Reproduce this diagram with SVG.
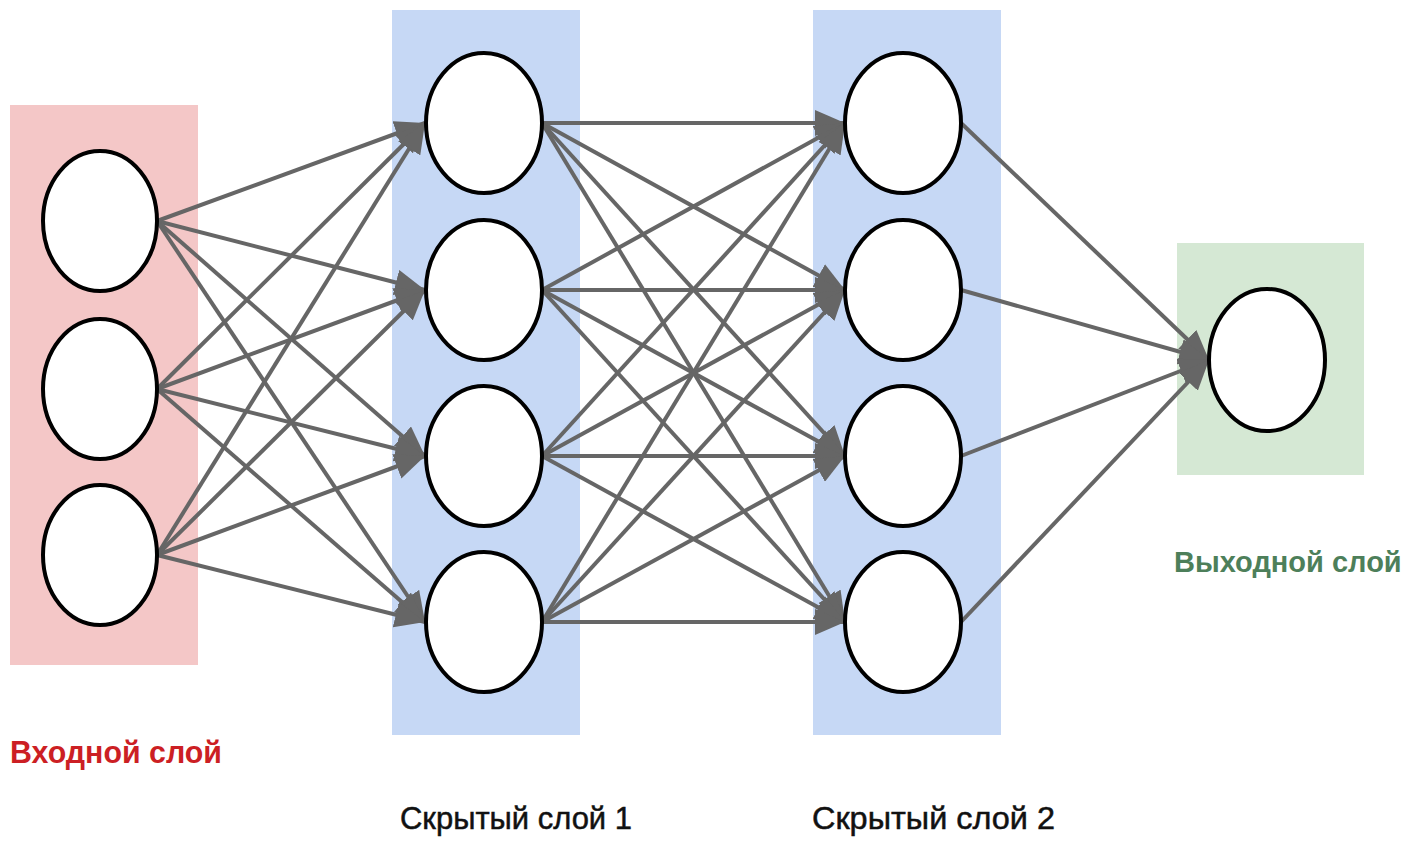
<svg xmlns="http://www.w3.org/2000/svg" width="1416" height="841" viewBox="0 0 1416 841">
<style>
.node{fill:#fff;stroke:#000;stroke-width:4}
.edge{stroke:#666;stroke-width:4;fill:none}
.lbl{font-family:"Liberation Sans",Arial,sans-serif;font-size:32px}
.b{font-weight:bold}
.k{stroke:#111;stroke-width:0.5}
</style>
<defs>
<marker id="arr" markerUnits="userSpaceOnUse" markerWidth="32" markerHeight="26" refX="30" refY="13" orient="auto">
<path d="M0,0 L30,13 L0,26 z" fill="#666"/>
</marker>
</defs>
<rect x="10" y="105" width="188" height="560" fill="#f4c7c7"/>
<rect x="392" y="10" width="188" height="725" fill="#c6d8f5"/>
<rect x="813" y="10" width="188" height="725" fill="#c6d8f5"/>
<rect x="1177" y="243" width="187" height="232" fill="#d5e8d4"/>
<g id="edges">
<line class="edge" x1="157" y1="221" x2="425" y2="123" marker-end="url(#arr)"/>
<line class="edge" x1="157" y1="221" x2="425" y2="290" marker-end="url(#arr)"/>
<line class="edge" x1="157" y1="221" x2="425" y2="456" marker-end="url(#arr)"/>
<line class="edge" x1="157" y1="221" x2="425" y2="622" marker-end="url(#arr)"/>
<line class="edge" x1="157" y1="389" x2="425" y2="123" marker-end="url(#arr)"/>
<line class="edge" x1="157" y1="389" x2="425" y2="290" marker-end="url(#arr)"/>
<line class="edge" x1="157" y1="389" x2="425" y2="456" marker-end="url(#arr)"/>
<line class="edge" x1="157" y1="389" x2="425" y2="622" marker-end="url(#arr)"/>
<line class="edge" x1="157" y1="555" x2="425" y2="123" marker-end="url(#arr)"/>
<line class="edge" x1="157" y1="555" x2="425" y2="290" marker-end="url(#arr)"/>
<line class="edge" x1="157" y1="555" x2="425" y2="456" marker-end="url(#arr)"/>
<line class="edge" x1="157" y1="555" x2="425" y2="622" marker-end="url(#arr)"/>
<line class="edge" x1="542" y1="123" x2="845" y2="123" marker-end="url(#arr)"/>
<line class="edge" x1="542" y1="123" x2="845" y2="290" marker-end="url(#arr)"/>
<line class="edge" x1="542" y1="123" x2="845" y2="456" marker-end="url(#arr)"/>
<line class="edge" x1="542" y1="123" x2="845" y2="622" marker-end="url(#arr)"/>
<line class="edge" x1="542" y1="290" x2="845" y2="123" marker-end="url(#arr)"/>
<line class="edge" x1="542" y1="290" x2="845" y2="290" marker-end="url(#arr)"/>
<line class="edge" x1="542" y1="290" x2="845" y2="456" marker-end="url(#arr)"/>
<line class="edge" x1="542" y1="290" x2="845" y2="622" marker-end="url(#arr)"/>
<line class="edge" x1="542" y1="456" x2="845" y2="123" marker-end="url(#arr)"/>
<line class="edge" x1="542" y1="456" x2="845" y2="290" marker-end="url(#arr)"/>
<line class="edge" x1="542" y1="456" x2="845" y2="456" marker-end="url(#arr)"/>
<line class="edge" x1="542" y1="456" x2="845" y2="622" marker-end="url(#arr)"/>
<line class="edge" x1="542" y1="622" x2="845" y2="123" marker-end="url(#arr)"/>
<line class="edge" x1="542" y1="622" x2="845" y2="290" marker-end="url(#arr)"/>
<line class="edge" x1="542" y1="622" x2="845" y2="456" marker-end="url(#arr)"/>
<line class="edge" x1="542" y1="622" x2="845" y2="622" marker-end="url(#arr)"/>
<line class="edge" x1="961" y1="123" x2="1209" y2="360" marker-end="url(#arr)"/>
<line class="edge" x1="961" y1="290" x2="1209" y2="360" marker-end="url(#arr)"/>
<line class="edge" x1="961" y1="456" x2="1209" y2="360" marker-end="url(#arr)"/>
<line class="edge" x1="961" y1="622" x2="1209" y2="360" marker-end="url(#arr)"/>
</g>
<g id="in1"><ellipse class="node" cx="100" cy="221" rx="57" ry="70"/></g>
<g id="in2"><ellipse class="node" cx="100" cy="389" rx="57" ry="70"/></g>
<g id="in3"><ellipse class="node" cx="100" cy="555" rx="57" ry="70"/></g>
<g id="h1a"><ellipse class="node" cx="484" cy="123" rx="58" ry="70"/></g>
<g id="h1b"><ellipse class="node" cx="484" cy="290" rx="58" ry="70"/></g>
<g id="h1c"><ellipse class="node" cx="484" cy="456" rx="58" ry="70"/></g>
<g id="h1d"><ellipse class="node" cx="484" cy="622" rx="58" ry="70"/></g>
<g id="h2a"><ellipse class="node" cx="903" cy="123" rx="58" ry="70"/></g>
<g id="h2b"><ellipse class="node" cx="903" cy="290" rx="58" ry="70"/></g>
<g id="h2c"><ellipse class="node" cx="903" cy="456" rx="58" ry="70"/></g>
<g id="h2d"><ellipse class="node" cx="903" cy="622" rx="58" ry="70"/></g>
<g id="out"><ellipse class="node" cx="1267" cy="360" rx="58" ry="71"/></g>
<g id="labels">
<text class="lbl b" x="10" y="763" fill="#cc1f24" textLength="212" lengthAdjust="spacingAndGlyphs">Входной слой</text>
<text class="lbl k" x="400" y="829" fill="#111" textLength="232" lengthAdjust="spacingAndGlyphs">Скрытый слой 1</text>
<text class="lbl k" x="812" y="829" fill="#111" textLength="243" lengthAdjust="spacingAndGlyphs">Скрытый слой 2</text>
<text class="b" x="1174" y="572" fill="#4d7f5a" font-family="Liberation Sans, Arial, sans-serif" font-size="29">Выходной слой</text>
</g>
</svg>
